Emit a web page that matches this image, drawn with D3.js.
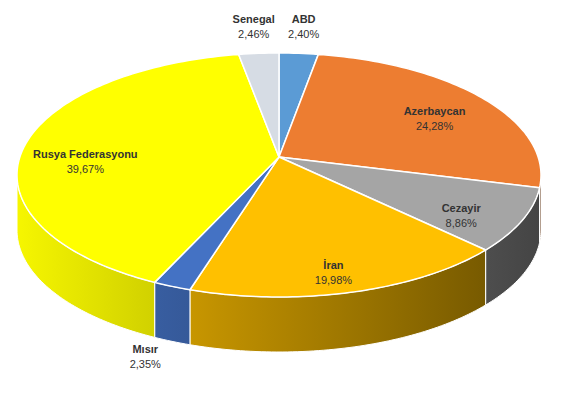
<!DOCTYPE html>
<html><head><meta charset="utf-8">
<script src="https://cdn.jsdelivr.net/npm/d3@7"></script>
<style>body{margin:0;background:#fff}</style>
</head><body>
<div id="chart"></div>
<script>
// Data
var countries = ["ABD", "Azerbaycan", "Cezayir", "İran", "Mısır", "Rusya Federasyonu", "Senegal"];
var shares = [2.40, 24.28, 8.86, 19.98, 2.35, 39.67, 2.46];
var colors = ["#5b9bd5", "#ed7d31", "#a5a5a5", "#ffc000", "#4472c4", "#ffff00", "#d6dce4"];

var W = 570, H = 403;
var cx = 279, cy = 175, rx = 262, ry = 122, depth = 55;
var apexY = 157;

var svg = d3.select("#chart").append("svg").attr("width", W).attr("height", H);
var defs = svg.append("defs");

var pie = d3.pie().sort(null).value(function (d) { return d; })(shares);

function px(a, r) { return cx + rx * r * Math.sin(a); }
function py(a, r) { return cy - ry * r * Math.cos(a); }

function arcPts(a0, a1, dy) {
    var pts = [], n = Math.max(2, Math.ceil((a1 - a0) / 0.02));
    for (var i = 0; i <= n; i++) {
        var a = a0 + (a1 - a0) * i / n;
        pts.push([px(a, 1), py(a, 1) + dy]);
    }
    return pts;
}

// gradients for walls
colors.forEach(function (c, i) {
    var g = defs.append("linearGradient").attr("id", "g" + i)
        .attr("gradientUnits", "userSpaceOnUse")
        .attr("x1", cx - rx).attr("x2", cx + rx).attr("y1", 0).attr("y2", 0);
    g.append("stop").attr("offset", 0).attr("stop-color", d3.color(c).darker(0.1));
    g.append("stop").attr("offset", 1).attr("stop-color", d3.color(c).darker(2.5));
});

// side walls (front half only)
var line = d3.line();
pie.forEach(function (d, i) {
    var a0 = Math.max(d.startAngle, Math.PI / 2), a1 = Math.min(d.endAngle, 3 * Math.PI / 2);
    if (a1 <= a0) return;
    var top = arcPts(a0, a1, 0), bot = arcPts(a0, a1, depth).reverse();
    svg.append("path").attr("d", line(top.concat(bot)) + "Z")
        .attr("fill", "url(#g" + i + ")").attr("stroke", "#fff").attr("stroke-width", 1);
});

// top faces
pie.forEach(function (d, i) {
    var pts = [[cx, apexY]].concat(arcPts(d.startAngle, d.endAngle, 0));
    svg.append("path").attr("d", line(pts) + "Z")
        .attr("fill", colors[i]).attr("stroke", "#fff").attr("stroke-width", 1.5)
        .attr("stroke-linejoin", "round");
});

// labels
pie.forEach(function (d, i) {
    var m = (d.startAngle + d.endAngle) / 2, x, y;
    var front = Math.cos(m) < 0;
    if (d.value < 3) {
        x = px(m, 1.25); y = py(m, 1.25) + (front ? depth - 16 : 0);
    } else {
        x = px(m, 0.75); y = py(m, 0.8);
    }
    var t = svg.append("text").attr("x", x).attr("y", y).attr("text-anchor", "middle")
        .attr("font-family", "Liberation Sans, Arial, sans-serif").attr("font-size", 11)
        .attr("fill", "#333");
    t.append("tspan").attr("x", x).attr("dy", 0).attr("font-weight", "bold").text(countries[i]);
    t.append("tspan").attr("x", x).attr("dy", 15)
        .text(d3.format(".2f")(d.value).replace(".", ",") + "%");
});
</script>
</body></html>
